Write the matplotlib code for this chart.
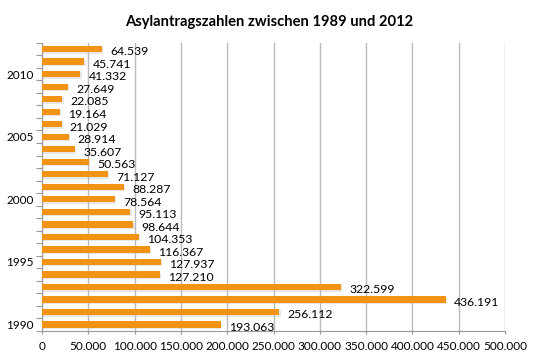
import matplotlib
matplotlib.use("Agg")
import matplotlib.pyplot as plt
import matplotlib.patheffects as pe
import numpy as np

years = list(range(1990, 2013))
values = [193063, 256112, 436191, 322599, 127210, 127937, 116367, 104353,
          98644, 95113, 78564, 88287, 71127, 50563, 35607, 28914, 21029,
          19164, 22085, 27649, 41332, 45741, 64539]
year_labels = [1990, 1995, 2000, 2005, 2010]
xticks = list(range(0, 500001, 50000))
title = "Asylantragszahlen zwischen 1989 und 2012"

plt.rcParams['font.family'] = ['Lato', 'DejaVu Sans']

def fmt(v):
    return f"{v:,}".replace(",", ".")

fig = plt.figure(figsize=(5.39, 3.6), dpi=100)
ax = fig.add_axes([0.078, 0.081, 0.859, 0.80])

bars = ax.barh(years, values, height=0.5, color='#F39314', zorder=3,
               path_effects=[pe.SimplePatchShadow(offset=(1, -1), shadow_rgbFace='#BBBBBB', alpha=0.35),
                             pe.Normal()])

for y, v in zip(years, values):
    ax.annotate(fmt(v), (v, y), xytext=(6, -2), textcoords='offset points',
                ha='left', va='center', fontsize=8.8, color='black', zorder=4)

ax.set_xlim(0, 500000)
ax.set_ylim(years[0] - 0.5, years[-1] + 0.5)
ax.set_xticks(xticks)
ax.set_xticklabels([fmt(t) for t in xticks], fontsize=8.5)
ax.set_yticks(year_labels)
ax.set_yticklabels([str(y) for y in year_labels], fontsize=8.5)
ax.set_yticks(np.arange(years[0] - 0.5, years[-1] + 1, 1), minor=True)
ax.tick_params(axis='y', which='major', length=0, pad=6)
ax.tick_params(axis='y', which='minor', length=4, color='#999999', width=0.8)
ax.tick_params(axis='x', which='major', length=2, color='#999999', width=0.8, pad=5)

ax.grid(axis='x', color='#BBBBBB', linewidth=1.0, zorder=0)
for s in ['top', 'right']:
    ax.spines[s].set_visible(False)
for s in ['left', 'bottom']:
    ax.spines[s].set_color('#999999')
    ax.spines[s].set_linewidth(0.8)

fig.text(0.5, 0.94, title, ha='center', va='center', fontsize=10.6, fontweight='bold')

fig.savefig('out.png', dpi=100)
